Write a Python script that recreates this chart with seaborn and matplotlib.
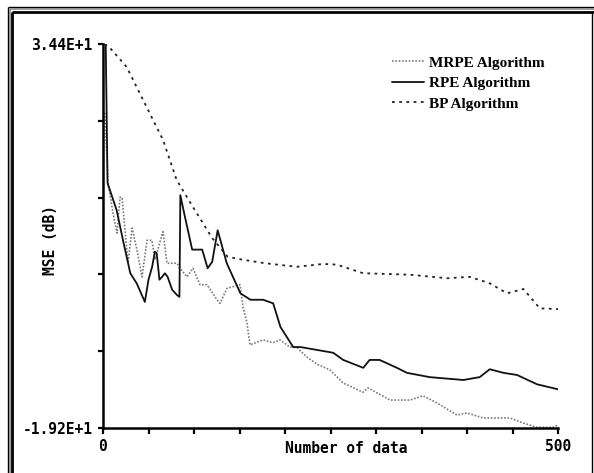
import matplotlib
matplotlib.use("Agg")
import matplotlib.pyplot as plt
import seaborn as sns
import pandas as pd
from matplotlib.lines import Line2D

# ---- data ----
bp_x = [2, 8, 26, 44, 66, 81, 101, 120, 137, 153, 178, 213, 242, 257, 286, 337, 378, 403, 425, 444, 462, 480, 500]
bp_y = [34.4, 33.8, 31.2, 26.6, 21.0, 15.4, 11.2, 7.3, 4.7, 4.3, 3.8, 3.3, 3.7, 3.6, 2.4, 2.2, 1.7, 1.9, 1.0, -0.4, 0.2, -2.5, -2.6]

rpe_x = [3, 5, 15, 22, 30, 37, 46, 50, 54, 57, 59, 62, 65, 68, 71, 76, 81, 84, 85, 90, 98, 109, 115, 120, 126,
         136, 151, 162, 176, 187, 195, 209, 217, 253, 264, 286, 293, 304, 323, 334, 359, 396, 414, 425, 440,
         455, 477, 500]
rpe_y = [34.4, 15.0, 11.2, 7.0, 2.4, 1.0, -1.6, 1.5, 3.3, 5.4, 5.2, 1.5, 1.9, 2.4, 1.9, 0.1, -0.6, -0.9, 13.3,
         10.3, 5.7, 5.7, 3.1, 4.0, 8.4, 3.8, -0.4, -1.3, -1.3, -1.8, -5.1, -7.9, -7.9, -8.7, -9.7, -10.8, -9.7,
         -9.7, -10.8, -11.5, -12.1, -12.5, -12.1, -11.0, -11.5, -11.8, -13.1, -13.8]

mrpe_x = [2, 5.5, 11, 15.4, 18.7, 20.9, 24.2, 27.5, 31.9, 37.4, 42.9, 48.4, 53.8, 57.1, 65.9, 70.3, 81.3, 84.6,
          92.3, 98.9, 106.6, 114.3, 125.3, 128.6, 136.3, 150.5, 153.8, 158.2, 161.5, 175.8, 186.8, 194.5, 205.5,
          213.2, 224.2, 235.2, 249.5, 263.7, 285.7, 291.2, 315.4, 337.4, 351.6, 367.0, 389.0, 400.0, 417.6, 447.3,
          461.5, 476.9, 494.5, 500]
mrpe_y = [24.8, 15.0, 10.8, 8.0, 13.0, 13.0, 8.4, 3.8, 8.7, 5.6, 1.9, 7.0, 7.0, 4.3, 8.2, 3.8, 3.8, 3.1, 1.9,
          3.1, 0.8, 0.8, -1.3, -1.8, 0.3, 0.8, -2.3, -4.5, -7.6, -6.9, -7.3, -6.9, -7.9, -8.0, -9.3, -10.3, -11.1,
          -12.9, -14.2, -13.6, -15.3, -15.3, -14.7, -15.7, -17.4, -17.1, -17.8, -17.8, -18.5, -19.1, -19.1, -18.8]

labels = ["MRPE Algorithm", "RPE Algorithm", "BP Algorithm"]
y_min, y_max = -19.2, 34.4
y_tick_labels = ["3.44E+1", "-1.92E+1"]
x_tick_labels = ["0", "500"]

df = pd.concat([
    pd.DataFrame({"n": mrpe_x, "mse": mrpe_y, "alg": labels[0]}),
    pd.DataFrame({"n": rpe_x, "mse": rpe_y, "alg": labels[1]}),
    pd.DataFrame({"n": bp_x, "mse": bp_y, "alg": labels[2]}),
], ignore_index=True)

sns.set_theme(style="white")
plt.rcParams["xtick.bottom"] = True
plt.rcParams["ytick.left"] = True
W, H = 594, 473
fig = plt.figure(figsize=(W / 100, H / 100), dpi=100)
fig.patch.set_facecolor("white")
ax = fig.add_axes([103 / W, 1 - 428 / H, (558 - 103) / W, (428 - 44) / H])
ax.set_facecolor("white")

styles = {
    labels[0]: dict(color="#7a7a7a", linestyle=(0, (1, 1)), linewidth=1.2),
    labels[1]: dict(color="#111111", linestyle="-", linewidth=1.3),
    labels[2]: dict(color="#222222", linestyle=(0, (1.5, 2.5)), linewidth=1.3),
}
for lab in labels:
    sub = df[df["alg"] == lab]
    sns.lineplot(data=sub, x="n", y="mse", ax=ax, sort=False, estimator=None,
                 label=lab, **styles[lab])

ax.set_xlim(0, 500)
ax.set_ylim(y_min, y_max)
for s in ["top", "right"]:
    ax.spines[s].set_visible(False)
for s in ["left", "bottom"]:
    ax.spines[s].set_visible(True)
    ax.spines[s].set_color("black")
    ax.spines[s].set_linewidth(1.8)

xt = list(range(0, 501, 50))
ax.set_xticks(xt)
ax.set_xticklabels([x_tick_labels[0]] + [""] * 9 + [x_tick_labels[1]])
yt = [y_max - i * (y_max - y_min) / 5 for i in range(6)]
ax.set_yticks(yt)
ax.set_yticklabels([y_tick_labels[0]] + [""] * 4 + [y_tick_labels[1]])
tick_font = dict(family="DejaVu Sans Mono", weight="bold", size=10.5)
ax.xaxis.set_tick_params(which="major", bottom=True, direction="out", length=4, width=1.6,
                         color="black", pad=4)
ax.yaxis.set_tick_params(which="major", left=True, direction="out", length=3.5, width=1.6,
                         color="black", pad=4)
for t in ax.get_xticklabels() + ax.get_yticklabels():
    t.set_fontfamily("DejaVu Sans Mono")
    t.set_fontweight("bold")
    t.set_fontsize(10.5)
    t.set_color("black")

ax.set_xlabel("Number of data", fontdict=tick_font, color="black")
ax.xaxis.set_label_coords((346 - 103) / 455, -0.035, transform=ax.transAxes)
ax.xaxis.label.set_va("top")
ax.set_ylabel("MSE (dB)", fontdict=tick_font, color="black")
ax.yaxis.set_label_coords(-(103 - 58) / 455, 0.49)

leg = ax.legend(loc="upper left", bbox_to_anchor=((386 - 103) / 455, 0.985), frameon=False,
                prop=dict(family="Liberation Serif", weight="bold", size=11),
                handlelength=2.1, handletextpad=0.3, labelspacing=0.45, borderaxespad=0.0)
for t in leg.get_texts():
    t.set_color("black")

# outer frame of the picture
def fline(xs, ys, lw, color):
    fig.add_artist(Line2D([x / W for x in xs], [1 - y / H for y in ys], lw=lw, color=color,
                          transform=fig.transFigure, solid_capstyle="butt"))

fline([7.5, 7.5], [7.5, 473], 1.0, "black")
fline([7.5, 594], [7.5, 7.5], 1.0, "black")
fline([9.5, 9.5], [9.5, 473], 1.2, "#8a8a8a")
fline([9.5, 594], [9.5, 9.5], 1.2, "#8a8a8a")
fline([12, 12], [12, 473], 2.0, "black")
fline([12, 594], [12, 12], 2.0, "black")
fline([591.5, 591.5], [13, 473], 1.0, "black")

fig.savefig("out.png", dpi=100, facecolor="white")
